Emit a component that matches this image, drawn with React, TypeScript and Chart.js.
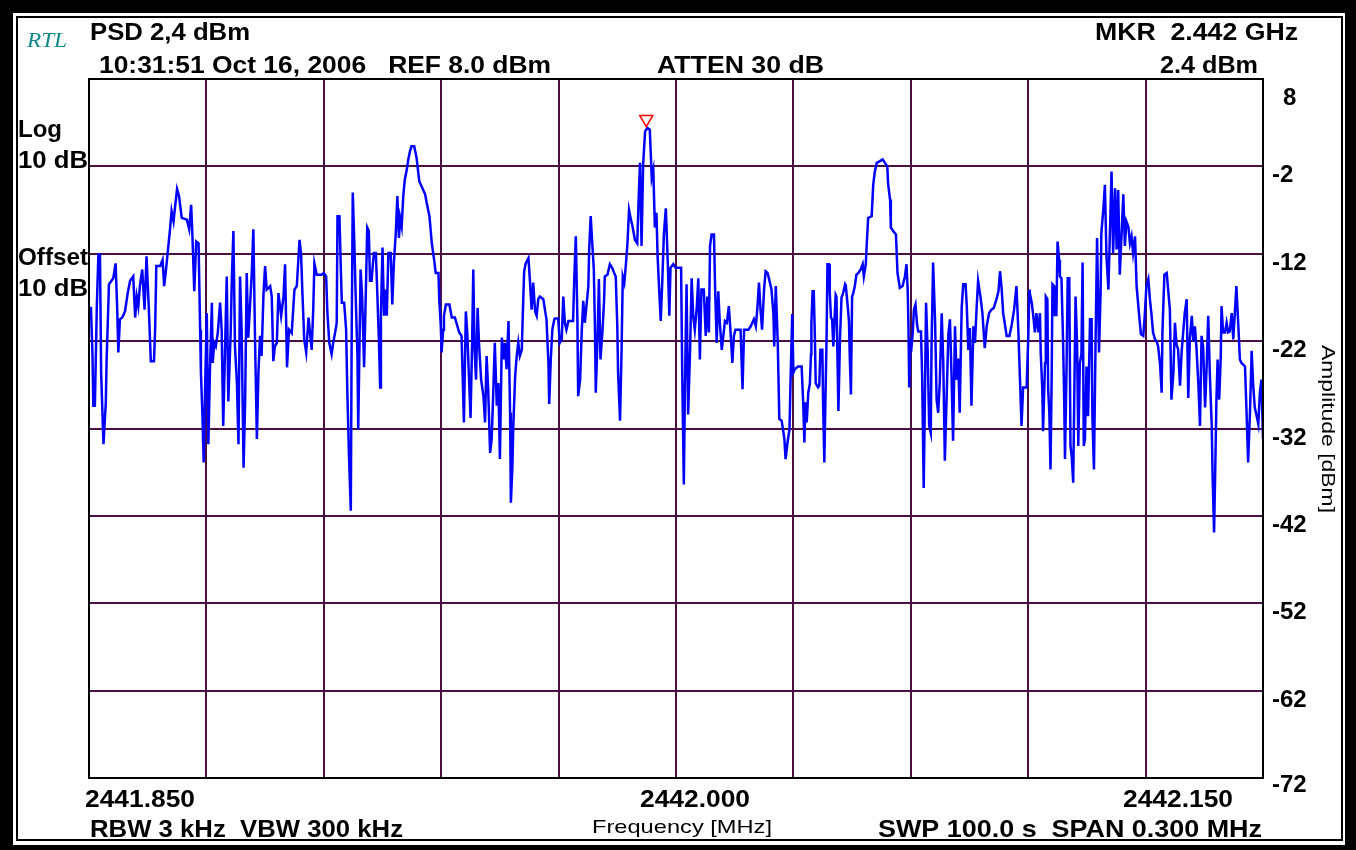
import React, { useEffect, useRef } from "react";
import { Chart, registerables } from "chart.js";

Chart.register(...registerables);

// ---- data ----
const START_MHZ = 2441.85;
const SPAN_MHZ = 0.3;
const xGridKHz = [0, 30, 60, 90, 120, 150, 180, 210, 240, 270, 300];
const yTickValues = [8, -2, -12, -22, -32, -42, -52, -62, -72];
const xTickLabels = ["2441.850", "2442.000", "2442.150"];
const xTickKHz = [0, 150, 300];
const markerKHz = 142.4;
const markerDBm = 3.4;

// trace: [offset from start, kHz ; level, dBm]
const spectrumTrace: [number, number][] = [
  [0, -18.2], [0.5, -18.2], [0.9, -23.7], [1.1, -29.4], [1.5, -29.4], [2.0, -18.0], [2.4, -12.1], [2.8, -12.1],
  [3.1, -25.6], [3.7, -33.8], [4.3, -29.0], [4.5, -24.1], [4.8, -19.9], [5.1, -15.5], [6.2, -14.8], [6.8, -13.1],
  [7.2, -18.2], [7.5, -23.3], [7.9, -19.5], [8.5, -19.3], [9.2, -18.6], [9.9, -16.5], [10.5, -15.1], [11.3, -14.6],
  [11.8, -19.3], [12.2, -16.9], [12.6, -18.0], [13.0, -15.7], [13.6, -13.8], [14.2, -18.4], [14.7, -12.3], [15.3, -18.4],
  [15.8, -24.3], [16.6, -24.3], [16.9, -20.7], [17.2, -13.4], [18.2, -13.4], [18.8, -12.7], [19.2, -15.7], [19.6, -14.2],
  [20.1, -11.9], [20.7, -9.2], [21.1, -7.1], [21.6, -8.3], [22.0, -6.6], [22.5, -4.6], [23.0, -5.4], [23.7, -7.9],
  [25.0, -8.1], [25.6, -9.2], [26.1, -6.4], [26.4, -9.6], [26.9, -16.3], [27.4, -10.6], [28.0, -10.8], [28.4, -20.7],
  [28.6, -25.6], [29.0, -30.6], [29.3, -35.9], [29.7, -26.8], [30.1, -18.8], [30.5, -33.8], [30.9, -25.6], [31.4, -17.6],
  [31.6, -24.5], [32.0, -22.2], [32.4, -22.6], [32.9, -21.1], [33.5, -17.6], [33.9, -20.7], [34.3, -31.7], [34.8, -22.2],
  [35.2, -14.6], [35.6, -28.9], [36.2, -21.1], [36.5, -14.9], [36.9, -9.4], [37.3, -22.6], [37.8, -26.8], [38.2, -33.8],
  [38.6, -14.6], [39.0, -20.7], [39.5, -36.5], [39.9, -29.0], [40.3, -14.2], [40.7, -21.6], [41.6, -14.2], [42.0, -9.2],
  [42.4, -21.1], [42.9, -33.2], [43.3, -25.6], [43.7, -21.4], [44.1, -23.7], [44.6, -16.5], [45.0, -13.4], [45.4, -16.1],
  [46.3, -15.7], [46.7, -16.9], [47.1, -24.3], [47.5, -22.6], [48.0, -22.2], [48.4, -16.5], [49.1, -19.1], [49.7, -16.9],
  [50.1, -13.2], [50.6, -25.0], [51.1, -20.7], [51.8, -21.1], [52.5, -16.1], [53.1, -15.7], [53.8, -10.4], [54.2, -12.1],
  [54.5, -16.1], [55.0, -21.8], [55.5, -23.3], [56.1, -19.3], [56.9, -23.0], [57.3, -18.4], [57.6, -13.1], [58.2, -14.4],
  [59.4, -14.4], [60.0, -14.2], [60.6, -14.6], [60.9, -18.6], [61.4, -22.2], [62.0, -23.5], [62.4, -22.2], [62.9, -21.0],
  [63.3, -19.9], [63.5, -7.7], [64.0, -7.7], [64.3, -12.9], [64.6, -17.6], [65.2, -17.6], [65.7, -20.7], [66.0, -27.5],
  [66.4, -34.6], [66.9, -41.4], [67.1, -23.3], [67.4, -5.0], [67.8, -10.8], [68.1, -16.1], [68.6, -23.7], [68.8, -32.1],
  [69.1, -23.0], [69.4, -13.8], [69.8, -16.9], [70.3, -25.0], [70.7, -17.2], [71.1, -9.0], [71.5, -9.4], [71.8, -15.1],
  [72.2, -15.1], [72.5, -13.4], [72.8, -11.9], [73.3, -11.9], [73.7, -16.9], [74.1, -22.2], [74.4, -27.3], [74.6, -19.1],
  [75.0, -11.3], [75.4, -19.1], [75.8, -16.1], [76.1, -19.1], [76.5, -11.9], [77.1, -11.9], [77.5, -17.8], [77.9, -13.1],
  [78.4, -9.6], [78.8, -5.4], [79.2, -10.2], [79.5, -7.9], [79.9, -8.9], [80.3, -5.4], [80.7, -3.5], [81.2, -2.4],
  [81.6, -1.2], [82.0, -0.3], [82.4, 0.3], [83.1, 0.3], [83.7, -1.0], [84.4, -3.7], [85.0, -4.3], [85.9, -5.2],
  [86.3, -6.2], [87.0, -7.7], [87.6, -10.8], [88.2, -12.7], [88.6, -14.2], [89.3, -14.2], [89.5, -17.2], [89.9, -20.3],
  [90.1, -23.3], [90.5, -20.7], [90.7, -19.1], [91.2, -17.8], [92.1, -17.8], [92.7, -19.3], [93.5, -19.3], [93.9, -19.9],
  [94.6, -21.0], [95.2, -21.4], [95.5, -26.2], [95.8, -31.3], [96.3, -18.6], [96.7, -21.4], [97.1, -26.2], [97.5, -30.8],
  [97.9, -22.2], [98.2, -13.8], [98.5, -22.6], [98.9, -26.4], [99.3, -18.2], [99.7, -22.6], [100.2, -26.4], [100.8, -28.3],
  [101.2, -31.3], [101.6, -23.7], [102.0, -27.5], [102.5, -34.8], [102.9, -33.2], [103.3, -27.9], [103.7, -22.2], [104.2, -29.4],
  [104.6, -26.8], [105.0, -35.5], [105.5, -21.6], [105.9, -24.1], [106.3, -22.2], [106.7, -25.2], [107.2, -19.7], [107.6, -30.2],
  [107.8, -40.5], [108.2, -36.3], [108.4, -32.1], [108.9, -26.0], [109.3, -23.7], [109.7, -22.2], [110.1, -23.7], [110.6, -23.0],
  [110.8, -19.7], [111.2, -14.0], [111.6, -13.1], [112.3, -12.5], [112.7, -15.3], [113.1, -18.4], [113.5, -15.3], [114.0, -18.6],
  [114.4, -19.1], [114.8, -17.2], [115.2, -16.9], [116.1, -17.2], [116.5, -18.4], [116.9, -19.5], [117.4, -24.5], [117.6, -29.2],
  [118.0, -24.1], [118.4, -20.7], [118.9, -19.5],
  [119.1, -19.4], [119.9, -19.4], [120.3, -22.2], [120.8, -21.8], [121.2, -16.9], [121.6, -19.9], [122.0, -20.7], [122.5, -19.7],
  [123.7, -19.7], [124.0, -14.9], [124.4, -10.0], [124.8, -19.5], [125.0, -28.3], [125.5, -26.4], [125.9, -21.0], [126.3, -17.4],
  [126.7, -19.9], [127.2, -17.6], [127.6, -15.7], [127.8, -11.7], [128.2, -7.7], [128.6, -10.8], [129.0, -13.8], [129.3, -20.7],
  [129.5, -27.9], [130.0, -20.9], [130.3, -14.9], [130.7, -24.1], [131.2, -20.9], [131.6, -17.6], [131.8, -14.6], [132.5, -14.4],
  [133.1, -13.2], [133.7, -13.6], [134.2, -14.2], [134.6, -14.6], [135.0, -20.3], [135.2, -25.6], [135.7, -31.1], [136.1, -22.8],
  [136.4, -14.6], [136.8, -15.3], [137.2, -13.2], [137.6, -10.8], [138.0, -7.0], [138.5, -8.1], [138.9, -8.9], [139.5, -10.4],
  [140.1, -10.8], [140.4, -6.4], [140.8, -1.6], [141.2, -11.1], [141.6, -1.8], [142.1, 2.0], [142.7, 2.4], [143.3, 2.2],
  [143.8, -3.3], [144.2, -2.4], [144.6, -9.0], [145.0, -7.3], [145.3, -12.3], [145.7, -16.1], [146.1, -19.7], [146.5, -15.1],
  [146.9, -9.8], [147.4, -6.8], [147.9, -13.0], [148.3, -19.1], [148.6, -13.6], [149.3, -13.2], [149.9, -13.6], [151.3, -13.6],
  [151.6, -26.0], [152.0, -38.4], [152.3, -26.8], [152.7, -15.5], [153.1, -30.4], [153.6, -23.0], [154.0, -14.8], [154.4, -19.1],
  [154.8, -20.7], [155.3, -18.2], [155.7, -14.8], [156.1, -24.1], [156.5, -16.1], [157.1, -16.1], [157.6, -21.4], [158.0, -16.9],
  [158.4, -21.0], [158.7, -11.1], [159.1, -9.8], [159.7, -9.8], [160.0, -16.1], [160.4, -22.2], [160.8, -16.3], [161.2, -19.9],
  [161.7, -23.0], [162.1, -21.4], [162.5, -19.7], [163.0, -19.9], [163.5, -18.0], [164.0, -21.4], [164.4, -24.5], [164.8, -21.4],
  [165.2, -20.7], [166.5, -20.7], [167.0, -27.5], [167.4, -20.7], [168.5, -20.7], [169.1, -20.3], [169.5, -19.9], [169.9, -19.5],
  [170.4, -20.3], [170.8, -18.2], [171.2, -15.3], [171.6, -18.4], [172.0, -20.7], [172.5, -16.1], [172.9, -14.0], [173.4, -14.2],
  [174.0, -15.3], [174.4, -16.1], [174.9, -18.9], [175.1, -22.6], [175.5, -15.7], [176.0, -22.2], [176.4, -30.9], [177.0, -31.1],
  [177.7, -33.2], [178.0, -35.5], [178.5, -33.6], [179.0, -32.1], [179.3, -26.0], [179.7, -18.9],
  [180.0, -25.6], [180.4, -25.2], [181.2, -24.9], [182.1, -24.9], [182.5, -29.0], [182.8, -33.6], [183.1, -29.0], [183.4, -31.3],
  [183.8, -27.9], [184.2, -26.9], [184.5, -23.5], [184.6, -19.9], [184.9, -16.3], [185.2, -16.3], [185.5, -21.8], [185.7, -26.8],
  [186.3, -27.3], [186.6, -27.1], [186.9, -23.0], [187.4, -23.0], [187.6, -29.4], [187.9, -35.9], [188.2, -28.3], [188.5, -20.9],
  [188.7, -13.2], [189.1, -13.2], [189.3, -16.5], [189.6, -19.3], [189.9, -19.5], [190.2, -22.6], [190.4, -20.7], [190.8, -16.7],
  [191.0, -16.9], [191.5, -30.0], [191.9, -21.8], [192.3, -17.0], [192.7, -16.5], [193.2, -15.5], [193.4, -15.7], [193.8, -17.6],
  [194.2, -19.7], [194.4, -23.7], [194.7, -28.1], [195.0, -16.9], [195.3, -16.5], [195.7, -15.7], [196.1, -14.4], [196.6, -14.2],
  [197.2, -13.8], [197.7, -13.2], [198.0, -14.6], [198.5, -13.2], [198.7, -11.3], [199.1, -7.9], [200.0, -7.7], [200.4, -4.1],
  [200.8, -2.6], [201.3, -1.6], [202.1, -1.4], [202.8, -1.2], [203.4, -1.6], [204.0, -2.0], [204.2, -4.0], [204.7, -5.8],
  [204.9, -9.0], [205.5, -9.4], [206.2, -9.8], [206.4, -11.9], [206.6, -14.2], [207.2, -15.9], [207.9, -15.7], [208.5, -14.6],
  [208.9, -13.2], [209.2, -16.1], [209.4, -20.3], [209.6, -27.3], [209.9, -22.2], [210.2, -22.6], [210.5, -21.0], [210.8, -18.4],
  [211.2, -17.8], [211.6, -20.1], [211.9, -20.9], [212.6, -20.9], [212.9, -26.0], [213.3, -38.8], [213.6, -28.7], [213.9, -17.6],
  [214.3, -23.0], [214.7, -31.7], [215.1, -32.5], [215.3, -22.6], [215.7, -13.0], [216.2, -19.7], [216.6, -28.7], [217.0, -30.2],
  [217.4, -26.8], [217.9, -18.8], [218.3, -24.5], [218.7, -35.7], [219.1, -29.4], [219.6, -21.2], [220.0, -19.5], [220.4, -25.8],
  [220.8, -33.4], [221.3, -20.3], [221.7, -26.4], [222.1, -24.0], [222.5, -30.2], [223.0, -18.2], [223.4, -15.5], [224.0, -15.5],
  [224.3, -18.0], [224.7, -23.0], [225.1, -20.5], [225.5, -29.4], [226.0, -20.3], [226.4, -22.2], [226.8, -18.4], [227.2, -15.1],
  [227.8, -16.9], [228.3, -18.8], [228.9, -22.8], [229.4, -20.3], [230.0, -18.8], [230.6, -18.4], [231.2, -18.2], [231.9, -17.2],
  [232.4, -16.3], [232.8, -14.0], [233.2, -15.9], [233.6, -18.8], [234.5, -21.4], [235.2, -21.4], [235.8, -20.1], [236.4, -18.4],
  [237.0, -15.7], [237.5, -21.0], [237.9, -26.4], [238.3, -31.7], [238.7, -27.3], [239.6, -27.3], [240.0, -21.8], [240.3, -16.1],
  [240.4, -16.5], [240.9, -17.6], [241.3, -19.1], [241.7, -21.0], [242.1, -18.8], [242.6, -21.0], [243.0, -18.8], [243.2, -23.3],
  [243.6, -27.5], [243.8, -32.3], [244.3, -24.5], [244.5, -16.9], [244.9, -17.2], [245.1, -27.5], [245.4, -30.2], [245.7, -36.7],
  [246.0, -26.0], [246.2, -15.5], [246.6, -15.7], [246.8, -19.0], [247.2, -19.0], [247.5, -10.6], [247.9, -12.7], [248.1, -14.6],
  [248.5, -14.8], [248.9, -21.8], [249.2, -28.7], [249.4, -35.5], [249.8, -25.0], [250.1, -14.8], [250.5, -14.8], [250.8, -34.0],
  [251.1, -35.1], [251.5, -38.2], [251.8, -27.5], [252.1, -16.9], [252.5, -22.6], [252.8, -34.0], [253.2, -24.5], [253.6, -23.5],
  [253.9, -13.0], [254.2, -34.0], [254.5, -33.2], [254.9, -24.9], [255.3, -30.6], [255.8, -19.5], [256.2, -19.5], [256.4, -30.6],
  [256.8, -36.7], [257.2, -22.6], [257.6, -10.2], [258.1, -23.3], [258.5, -16.5], [258.7, -9.6], [259.2, -6.9], [259.6, -4.1],
  [260.0, -12.3], [260.5, -16.1], [260.9, -9.2], [261.3, -2.6], [261.7, -11.9], [262.2, -4.5], [262.6, -11.5], [263.0, -4.7],
  [263.4, -14.4], [263.9, -9.4], [264.3, -5.2], [264.7, -11.1], [265.1, -8.3], [265.6, -8.9], [266.0, -10.8], [266.4, -10.0],
  [266.8, -11.9], [267.3, -10.0], [267.7, -15.7], [268.3, -18.8], [268.8, -21.2], [269.4, -21.4], [269.8, -19.0], [270.2, -15.7],
  [270.7, -14.9], [271.1, -17.2], [271.5, -18.9], [271.9, -21.0], [272.4, -21.8], [272.8, -22.0], [273.2, -22.6], [273.7, -24.7],
  [274.1, -27.9], [274.3, -21.0], [274.8, -14.4], [275.4, -14.2], [275.8, -16.3], [276.2, -18.4], [276.6, -28.7], [277.1, -25.6],
  [277.5, -19.9], [277.9, -22.4], [278.3, -22.9], [278.8, -27.1], [279.2, -23.3], [279.6, -21.0], [280.0, -18.8], [280.5, -17.2],
  [280.9, -28.5], [281.3, -21.8], [281.8, -19.1], [282.2, -22.0], [282.6, -20.3], [283.0, -22.8], [283.5, -27.1], [283.9, -31.7],
  [284.3, -21.4], [284.7, -22.6], [285.2, -29.6], [285.6, -24.9], [286.0, -19.1], [286.4, -25.6], [286.9, -31.7], [287.1, -37.0],
  [287.5, -43.9], [287.9, -34.0], [288.1, -28.7], [288.4, -24.1], [288.8, -28.7], [289.2, -23.9], [289.4, -18.0], [289.8, -21.0],
  [290.3, -21.0], [290.7, -19.9], [291.1, -21.0], [291.5, -20.9], [292.0, -18.8], [292.4, -21.8], [292.8, -18.8], [293.2, -15.7],
  [293.7, -20.3], [294.1, -24.1], [294.5, -24.5], [295.4, -24.9], [295.8, -30.2], [296.2, -35.9], [296.7, -29.8], [297.1, -23.1],
  [297.5, -27.1], [297.9, -29.6], [298.4, -30.6], [298.8, -31.5], [299.2, -27.9], [299.6, -26.4], [300.0, -33.2],
];

// ---- styles ----
const GRID_COLOR = "#4a1042";
const TRACE_COLOR = "#0000ff";
const FONT = "'Liberation Sans', Arial, sans-serif";

const toMHz = (k: number) => START_MHZ + k / 1000;

function fitText(
  ctx: CanvasRenderingContext2D,
  text: string,
  left: number,
  right: number,
  baseline: number,
  font: string,
  color = "#000"
) {
  ctx.save();
  ctx.font = font;
  ctx.fillStyle = color;
  ctx.textAlign = "left";
  ctx.textBaseline = "alphabetic";
  const w = ctx.measureText(text).width;
  ctx.translate(left, baseline);
  ctx.scale((right - left) / w, 1);
  ctx.fillText(text, 0, 0);
  ctx.restore();
}

const decorPlugin = {
  id: "analyzerDecor",
  beforeDraw(chart: any) {
    const { ctx, width, height } = chart;
    ctx.save();
    ctx.fillStyle = "#000";
    ctx.fillRect(0, 0, width, height);
    ctx.fillStyle = "#fff";
    ctx.fillRect(13, 13, width - 13 - 11, height - 13 - 5);
    ctx.strokeStyle = "#000";
    ctx.lineWidth = 2;
    ctx.strokeRect(17, 17, width - 17 - 14, height - 17 - 10);
    ctx.restore();
  },
  afterDraw(chart: any) {
    const { ctx, chartArea } = chart;
    const xs = chart.scales.x;
    const ys = chart.scales.y;
    ctx.save();
    // plot frame
    ctx.strokeStyle = "#000";
    ctx.lineWidth = 2;
    ctx.strokeRect(chartArea.left, chartArea.top, chartArea.right - chartArea.left, chartArea.bottom - chartArea.top);

    const bold = `bold 24px ${FONT}`;
    // header
    fitText(ctx, "RTL", 27, 67, 47, `italic 20px 'Liberation Serif', serif`, "#118a8a");
    fitText(ctx, "PSD 2,4 dBm", 90, 250, 40, bold);
    fitText(ctx, "10:31:51 Oct 16, 2006   REF 8.0 dBm", 99, 551, 73, bold);
    fitText(ctx, "ATTEN 30 dB", 657, 824, 73, bold);
    fitText(ctx, "MKR  2.442 GHz", 1095, 1298, 40, bold);
    fitText(ctx, "2.4 dBm", 1160, 1258, 73, bold);
    // left
    fitText(ctx, "Log", 18, 62, 137, bold);
    fitText(ctx, "10 dB", 18, 88, 168, bold);
    fitText(ctx, "Offset", 18, 88, 265, bold);
    fitText(ctx, "10 dB", 18, 88, 296, bold);

    // y tick labels
    ctx.font = `bold 24px ${FONT}`;
    ctx.fillStyle = "#000";
    ctx.textBaseline = "alphabetic";
    ctx.textAlign = "left";
    yTickValues.forEach((v) => {
      const py = Math.max(ys.getPixelForValue(v) + 16, 105);
      const label = String(v);
      const x0 = v < 0 ? chartArea.right + 9 : chartArea.right + 20;
      ctx.fillText(label, x0, Math.min(py, 792));
    });

    // x tick labels
    const xLabelOffsets = [-4, -36, -140];
    xTickLabels.forEach((label, i) => {
      const px = xs.getPixelForValue(toMHz(xTickKHz[i]));
      const left = px + xLabelOffsets[i];
      fitText(ctx, label, left, left + 110, chartArea.bottom + 29, bold);
    });

    // footer
    fitText(ctx, "RBW 3 kHz  VBW 300 kHz", 90, 403, 837, bold);
    fitText(ctx, "Frequency [MHz]", 592, 772, 833, `19px ${FONT}`);
    fitText(ctx, "SWP 100.0 s  SPAN 0.300 MHz", 878, 1262, 837, bold);

    // right axis title
    ctx.save();
    ctx.translate(1322, 345);
    ctx.rotate(Math.PI / 2);
    fitText(ctx, "Amplitude [dBm]", 0, 168, 0, `19px ${FONT}`);
    ctx.restore();

    ctx.restore();
  },
};

export default function App() {
  const canvasRef = useRef<HTMLCanvasElement | null>(null);

  useEffect(() => {
    const canvas = canvasRef.current;
    if (!canvas) return;
    const traceData = spectrumTrace.map(([k, d]) => ({ x: toMHz(k), y: d }));
    const chart = new Chart(canvas, {
      type: "line",
      data: {
        datasets: [
          {
            type: "scatter",
            label: "Marker",
            data: [{ x: toMHz(markerKHz), y: markerDBm }],
            pointStyle: "triangle",
            rotation: 180,
            radius: 7.5,
            borderColor: "#ff0000",
            backgroundColor: "rgba(255,255,255,0)",
            borderWidth: 1.5,
          } as any,
          {
            label: "Trace",
            data: traceData,
            borderColor: TRACE_COLOR,
            borderWidth: 2.5,
            pointRadius: 0,
            tension: 0,
            fill: false,
          },
        ],
      },
      options: {
        animation: false,
        responsive: false,
        maintainAspectRatio: false,
        devicePixelRatio: 1,
        layout: { padding: { left: 89, right: 93, top: 79, bottom: 72 } },
        plugins: { legend: { display: false }, tooltip: { enabled: false }, title: { display: false } },
        scales: {
          x: {
            type: "linear",
            min: toMHz(0),
            max: toMHz(300),
            afterBuildTicks: (s: any) => {
              s.ticks = xGridKHz.map((k) => ({ value: toMHz(k) }));
            },
            ticks: { display: false },
            grid: { color: GRID_COLOR, lineWidth: 2, drawTicks: false },
            border: { display: false },
          },
          y: {
            type: "linear",
            min: -72,
            max: 8,
            afterBuildTicks: (s: any) => {
              s.ticks = yTickValues.map((v) => ({ value: v }));
            },
            ticks: { display: false },
            grid: { color: GRID_COLOR, lineWidth: 2, drawTicks: false },
            border: { display: false },
          },
        },
      },
      plugins: [decorPlugin],
    });
    return () => chart.destroy();
  }, []);

  return (
    <div style={{ position: "absolute", left: 0, top: 0, width: 1356, height: 850 }}>
      <canvas ref={canvasRef} width={1356} height={850} style={{ display: "block" }} />
    </div>
  );
}
